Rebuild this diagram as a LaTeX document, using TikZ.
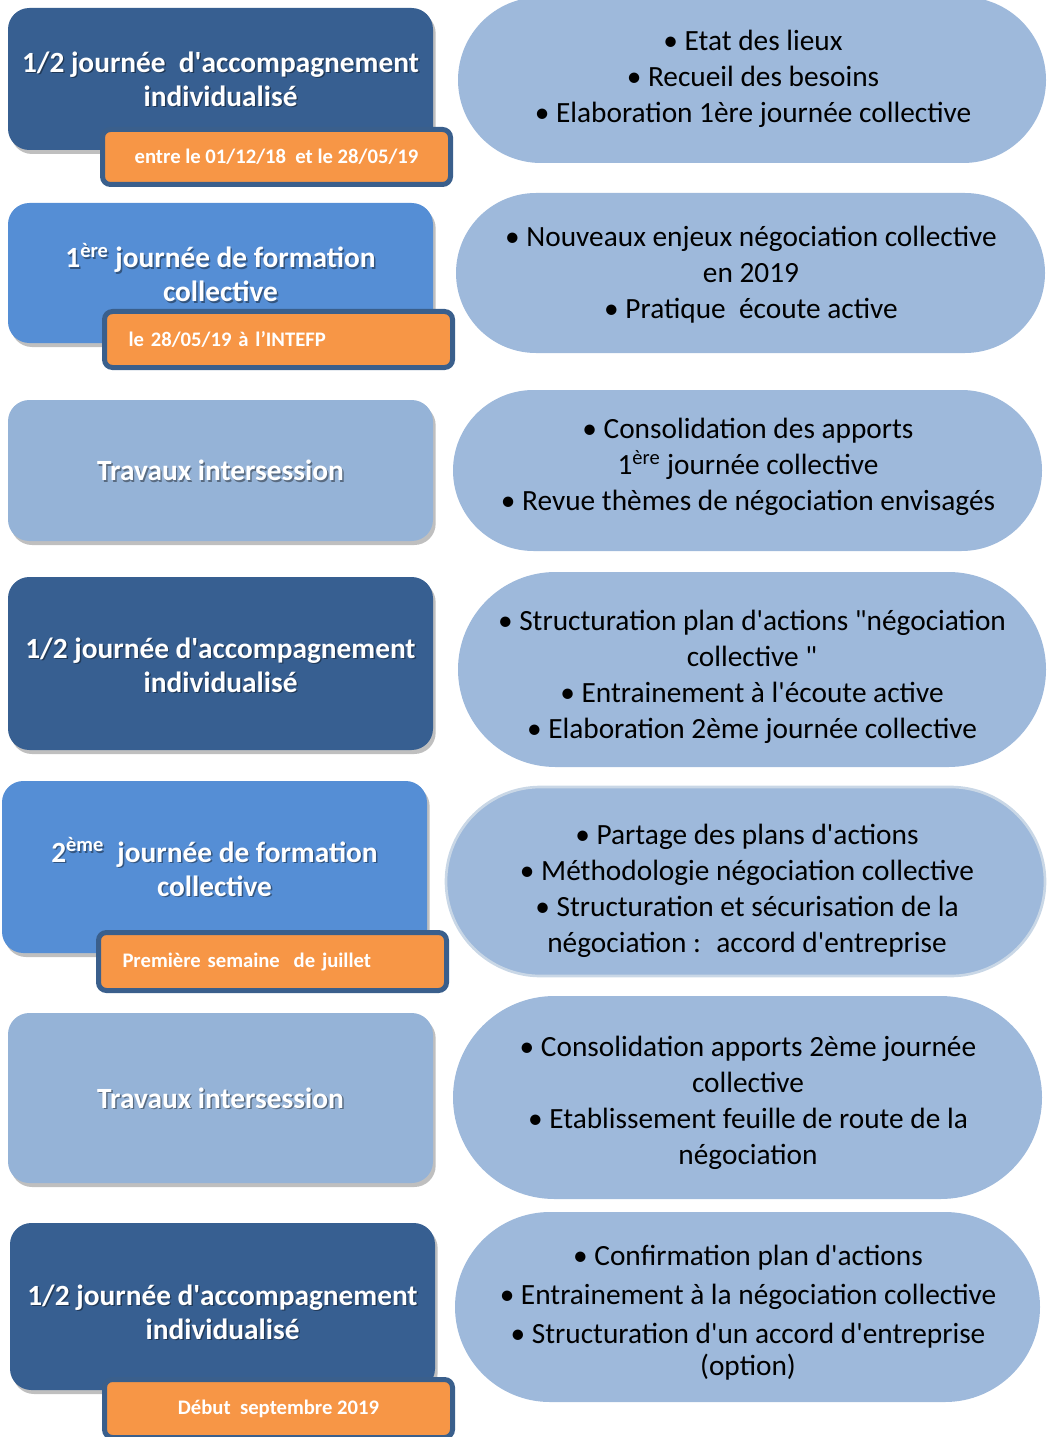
\documentclass[tikz,border=0pt]{standalone}
\usepackage{fontspec}
\setmainfont{Carlito}
\usetikzlibrary{shapes.misc,shadows}
\definecolor{darkb}{HTML}{375F91}
\definecolor{midb}{HTML}{558ED5}
\definecolor{lightb}{HTML}{95B3D7}
\definecolor{ellb}{HTML}{9EB9DB}
\definecolor{orng}{HTML}{F79646}
\definecolor{tagborder}{HTML}{3A5F8C}
\definecolor{e5border}{HTML}{C9D7E6}
\newcommand\apo{\textquotesingle}
\newcommand\dq{\textquotedbl}
\begin{document}
\begin{tikzpicture}[x=0.75pt,y=-0.75pt,
  stagebox/.style={rectangle,rounded corners=16pt,minimum width=425*0.75pt,inner sep=0pt,
    drop shadow={shadow xshift=2pt,shadow yshift=-3pt,opacity=0.25,fill=black}},
  titletxt/.style={text=white,font=\bfseries\fontsize{22}{25.5}\selectfont,align=center,inner sep=0pt},
  titleshadow/.style={titletxt,text=black,text opacity=0.4,xshift=1.1pt,yshift=-1.3pt},
  tagbox/.style={rectangle,rounded corners=6pt,fill=orng,draw=tagborder,line width=3.75pt,
    minimum width=348*0.75pt,text=white,font=\bfseries\fontsize{15.5}{18}\selectfont,inner sep=0pt},
  topic/.style={rounded rectangle,fill=ellb,inner sep=0pt},
  topictxt/.style={align=center,inner sep=0pt,font=\fontsize{22}{27}\selectfont},
]
\useasboundingbox (0,0) rectangle (1050,1437);
% right topics
\node[topic,minimum width=588*0.75pt,minimum height=166*0.75pt] (e1) at (752,80) {};
\node[topictxt] (e1t) at (753,79)
  {• Etat des lieux\\ • Recueil des besoins\\ • Elaboration 1ère journée collective};
\node[topic,minimum width=589*0.75pt,minimum height=160*0.75pt] (e2) at (750.5,273) {};
\node[topictxt] (e2t) at (751,275)
  {• Nouveaux enjeux négociation collective\\ en 2019\\ • Pratique \ écoute active};
\node[topic,minimum width=589*0.75pt,minimum height=161*0.75pt] (e3) at (747.5,470.5) {};
\node[topictxt] (e3t) at (748,467)
  {• Consolidation des apports\\ 1\textsuperscript{ère} journée collective\\ • Revue thèmes de négociation envisagés};
\node[topic,minimum width=588*0.75pt,minimum height=195*0.75pt] (e4) at (752,669.5) {};
\node[topictxt] (e4t) at (752,677)
  {• Structuration plan d\apo actions \dq négociation\\ collective \dq\\ • Entrainement à l\apo écoute active\\ • Elaboration 2ème journée collective};
\node[topic,draw=e5border,line width=2pt,minimum width=599*0.75pt,minimum height=189*0.75pt] (e5) at (745.5,881.5) {};
\node[topictxt] (e5t) at (747,891)
  {• Partage des plans d\apo actions\\ • Méthodologie négociation collective\\ • Structuration et sécurisation de la\\ négociation : \ accord d\apo entreprise};
\node[topic,minimum width=589*0.75pt,minimum height=203*0.75pt] (e6) at (747.5,1097.5) {};
\node[topictxt] (e6t) at (748,1102.5)
  {• Consolidation apports 2ème journée\\ collective\\ • Etablissement feuille de route de la\\ négociation};
\node[topic,minimum width=585*0.75pt,minimum height=190*0.75pt] (e7) at (747.5,1307) {};
\node[topictxt] (e7t) at (748,1312.5)
  {• Confirmation plan d\apo actions\\[2pt] • Entrainement à la négociation collective\\[2pt] • Structuration d\apo un accord d\apo entreprise\\[-3pt] (option)};
% left stages
\node[stagebox,fill=darkb,minimum height=142*0.75pt] (b1) at (220.5,79) {};
\node[titleshadow] (b1s) at (220.5,79) {1/2 journée \ d\apo accompagnement\\ individualisé};
\node[titletxt] (b1t) at (220.5,79) {1/2 journée \ d\apo accompagnement\\ individualisé};
\node[tagbox,minimum height=55*0.75pt] (t1) at (276.5,157) {entre le 01/12/18 \ et le 28/05/19};
\node[stagebox,fill=midb,minimum height=140*0.75pt] (b2) at (220.5,273) {};
\node[titleshadow] (b2s) at (220.5,273) {1\textsuperscript{ère} journée de formation\\ collective};
\node[titletxt] (b2t) at (220.5,273) {1\textsuperscript{ère} journée de formation\\ collective};
\node[tagbox,minimum height=56*0.75pt,text width=300*0.75pt,align=left] (t2) at (278.5,339.5) {le 28/05/19 à l’INTEFP};
\node[stagebox,fill=lightb,minimum height=141*0.75pt] (b3) at (220.5,470.5) {};
\node[titleshadow] (b3s) at (220.5,470.5) {Travaux intersession};
\node[titletxt] (b3t) at (220.5,470.5) {Travaux intersession};
\node[stagebox,fill=darkb,minimum height=173*0.75pt] (b4) at (220.5,663.5) {};
\node[titleshadow] (b4s) at (220.5,665) {1/2 journée d\apo accompagnement\\ individualisé};
\node[titletxt] (b4t) at (220.5,665) {1/2 journée d\apo accompagnement\\ individualisé};
\node[stagebox,fill=midb,minimum height=172*0.75pt] (b5) at (214.5,867) {};
\node[titleshadow] (b5s) at (214.5,867) {2\textsuperscript{ème} \ journée de formation\\ collective};
\node[titletxt] (b5t) at (214.5,867) {2\textsuperscript{ème} \ journée de formation\\ collective};
\node[tagbox,minimum height=58*0.75pt,text width=300*0.75pt,align=left] (t5) at (272.5,961.5) {Première semaine \ de juillet};
\node[stagebox,fill=lightb,minimum height=170*0.75pt] (b6) at (220.5,1098) {};
\node[titleshadow] (b6s) at (220.5,1098) {Travaux intersession};
\node[titletxt] (b6t) at (220.5,1098) {Travaux intersession};
\node[stagebox,fill=darkb,minimum height=167*0.75pt] (b7) at (222.5,1306.5) {};
\node[titleshadow] (b7s) at (222.5,1312) {1/2 journée d\apo accompagnement\\ individualisé};
\node[titletxt] (b7t) at (222.5,1312) {1/2 journée d\apo accompagnement\\ individualisé};
\node[tagbox,minimum height=58*0.75pt] (t7) at (278.5,1408.5) {Début \ septembre 2019};
\end{tikzpicture}
\end{document}
